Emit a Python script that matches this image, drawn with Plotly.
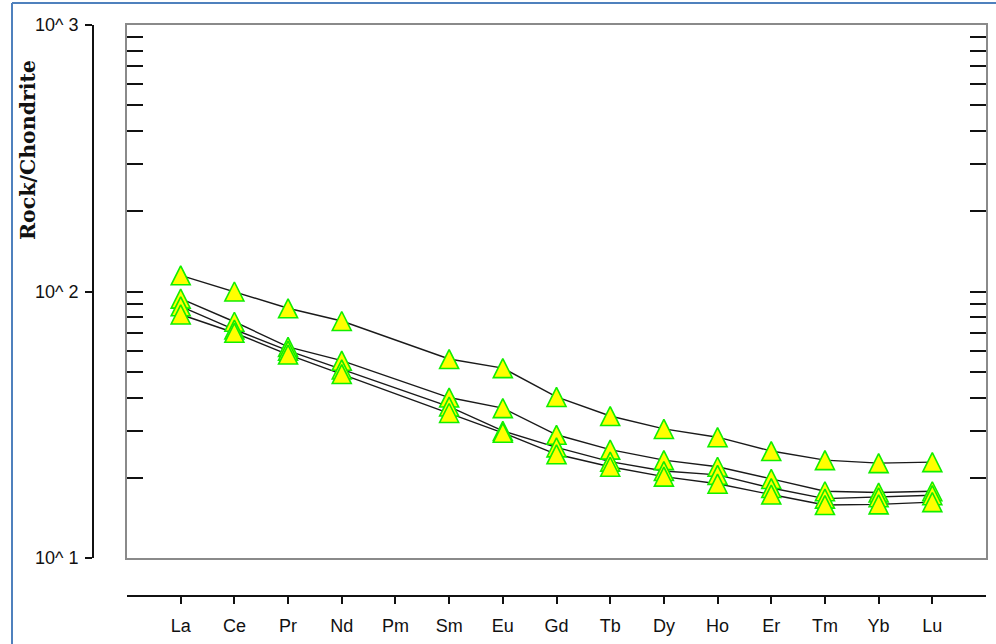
import plotly.graph_objects as go

elements = ["La", "Ce", "Pr", "Nd", "Pm", "Sm", "Eu", "Gd", "Tb", "Dy", "Ho", "Er", "Tm", "Yb", "Lu"]
sample_1 = [115, 100, 86.5, 77.5, None, 55.8, 51.6, 40.2, 34.1, 30.5, 28.4, 25.2, 23.3, 22.7, 22.9]
sample_2 = [94, 77, 62, 55, None, 40, 36.5, 29, 25.5, 23.3, 22, 19.8, 17.8, 17.6, 17.8]
sample_3 = [88, 72, 60, 51, None, 37, 30, 26, 23, 21.2, 20.5, 18.3, 16.7, 16.9, 17.2]
sample_4 = [82, 70, 58, 49, None, 35, 29.5, 24.5, 22, 20.2, 19, 17.3, 15.8, 15.9, 16.2]
samples = [sample_1, sample_2, sample_3, sample_4]

y_tick_vals = [10, 100, 1000]
y_tick_text = ["10^ 1", "10^ 2", "10^ 3"]
minor_ticks = [v * m for m in (10, 100) for v in range(1, 10)] + [1000]

W, H = 996, 644
xi = list(range(len(elements)))

fig = go.Figure()
for s in samples:
    fig.add_trace(go.Scatter(x=xi, y=s, mode="lines", connectgaps=True,
                             line=dict(color="#1a1a1a", width=1.4),
                             hoverinfo="skip", showlegend=False))
MS = 19
for s in samples:
    fig.add_trace(go.Scatter(x=xi, y=s, mode="markers",
                             marker=dict(symbol="arrow-down", angle=180, standoff=MS / 2,
                                         size=MS, color="#ffff00",
                                         line=dict(color="#11ee00", width=1.6)),
                             showlegend=False))
# dummy trace for secondary axes
fig.add_trace(go.Scatter(x=xi, y=sample_1, xaxis="x2", yaxis="y2", mode="markers",
                         marker=dict(opacity=0), hoverinfo="skip", showlegend=False))

font = dict(family="Liberation Sans, Arial, sans-serif", size=18, color="#111111")

fig.update_layout(
    width=W, height=H,
    margin=dict(l=0, r=0, t=0, b=0, pad=0, autoexpand=False),
    paper_bgcolor="white", plot_bgcolor="white",
    xaxis=dict(domain=[127 / W, 986 / W], range=[-1, 15], showgrid=False, zeroline=False,
               showline=True, mirror=True, linecolor="#8a8a8a", linewidth=2,
               ticks="", showticklabels=False, automargin=False),
    yaxis=dict(domain=[1 - 558 / H, 1 - 25 / H], type="log", range=[1, 3], showgrid=False,
               zeroline=False, showline=True, mirror="allticks", linecolor="#8a8a8a",
               linewidth=2, ticks="inside", ticklen=16, tickwidth=2, tickcolor="#111111",
               tickmode="array", tickvals=minor_ticks, showticklabels=False, automargin=False),
    xaxis2=dict(overlaying="x", anchor="free", position=1 - 596 / H, side="bottom",
                range=[-1, 15], showgrid=False, zeroline=False, showline=True,
                linecolor="#111111", linewidth=2, ticks="outside", ticklen=7, tickwidth=1.5,
                tickcolor="#111111", tickmode="array", tickvals=xi, ticktext=elements,
                tickfont=font, ticklabelstandoff=6, automargin=False),
    yaxis2=dict(overlaying="y", anchor="free", position=93 / W, side="left", type="log",
                range=[1, 3], showgrid=False, zeroline=False, showline=True,
                linecolor="#111111", linewidth=2, ticks="outside", ticklen=7, tickwidth=1.5,
                tickcolor="#111111", tickmode="array", tickvals=y_tick_vals,
                ticktext=y_tick_text, tickfont=font, ticklabelstandoff=3, automargin=False),
    annotations=[dict(text="<b>Rock/Chondrite</b>", x=28 / W, y=1 - 150 / H,
                      xref="paper", yref="paper", xanchor="center", yanchor="middle",
                      showarrow=False, textangle=-90,
                      font=dict(family="DejaVu Serif, serif", size=20.5, color="#111111"))],
    shapes=[
        dict(type="line", xref="paper", yref="paper", x0=12 / W, x1=1, y0=1 - 3 / H, y1=1 - 3 / H,
             line=dict(color="#4f81bd", width=2)),
        dict(type="line", xref="paper", yref="paper", x0=12 / W, x1=12 / W, y0=0, y1=1 - 3 / H,
             line=dict(color="#4f81bd", width=2)),
    ],
)

fig.write_html("out.html", post_script="document.body.style.margin='0';")
